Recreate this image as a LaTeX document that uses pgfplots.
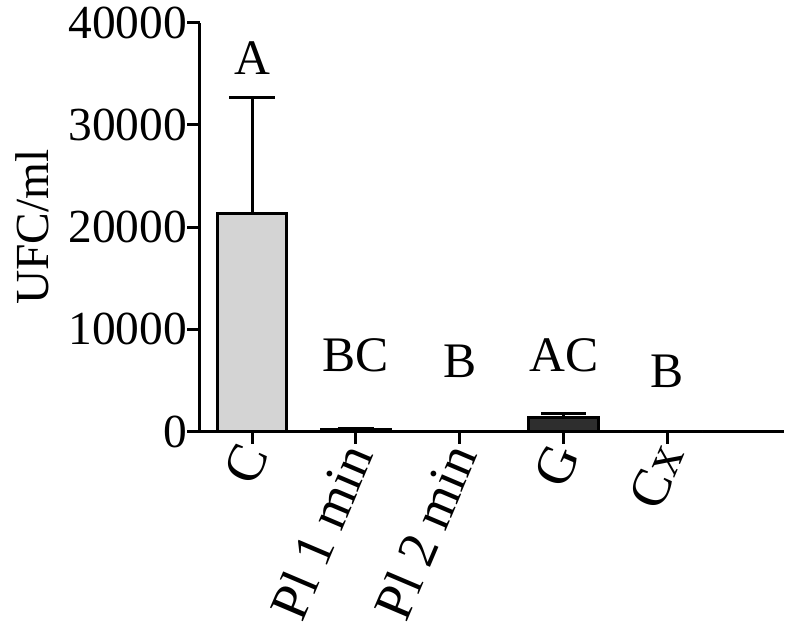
\documentclass[border=0pt]{standalone}
\usepackage{pgfplots}
\pgfplotsset{compat=1.18}
\usepackage{fontspec}
\setmainfont{Liberation Serif}

\begin{document}
\begin{tikzpicture}
\begin{axis}[
    scale only axis,
    width=259pt, height=181pt,
    ybar, bar width=30.8pt, bar shift=0pt,
    xmin=-0.505, xmax=5.126,
    ymin=0, ymax=40000,
    ytick={0,10000,20000,30000,40000},
    scaled y ticks=false,
    xtick={0,1,2,3,4},
    xticklabels={C, Pl 1 min, Pl 2 min, G, Cx},
    x tick label style={rotate=67, anchor=east, inner sep=1pt, yshift=-1pt,
        font=\fontsize{24}{26}\selectfont},
    axis lines*=left,
    axis line style={-, line width=1.35pt},
    tick style={line width=1.35pt, black},
    tick align=outside,
    major tick length=5.4pt,
    /pgf/number format/1000 sep={},
    yticklabel={\pgfmathprintnumber[assume math mode=true]{\tick}},
    y tick label style={font=\fontsize{21}{23}\selectfont, inner xsep=0pt, inner ysep=3pt},
    ylabel={UFC/ml},
    ylabel style={font=\fontsize{21}{23}\selectfont, inner sep=7pt, yshift=1.3pt},
    clip=false,
]
\addplot[fill=black!17, draw=black, line width=1.35pt,
    error bars/.cd, y dir=plus, y explicit,
    error bar style={line width=1.35pt},
    error mark options={rotate=90, mark size=10pt, line width=1.35pt}]
    coordinates {(0,21300) +- (0,11400)};
\addplot[fill=black, draw=black, line width=0.9pt,
    error bars/.cd, y dir=plus, y explicit,
    error bar style={line width=0.9pt},
    error mark options={rotate=90, mark size=8pt, line width=0.9pt}]
    coordinates {(1,200) +- (0,150)};
\addplot[fill=black, draw=black, line width=0.9pt]
    coordinates {(2,80)};
\addplot[fill=black!82, draw=black, line width=1.35pt,
    error bars/.cd, y dir=plus, y explicit,
    error bar style={line width=1.35pt},
    error mark options={rotate=90, mark size=10pt, line width=1.35pt}]
    coordinates {(3,1400) +- (0,350)};
\addplot[fill=white, draw=black, line width=0.9pt]
    coordinates {(4,0)};

\begin{scope}[every node/.style={font=\fontsize{22}{24}\selectfont}]
\node at (axis cs:0,36550) {A};
\node at (axis cs:1,7490) {BC};
\node at (axis cs:2,6900) {B};
\node at (axis cs:3,7490) {AC};
\node at (axis cs:4,5900) {B};
\end{scope}
\end{axis}
\end{tikzpicture}
\end{document}
